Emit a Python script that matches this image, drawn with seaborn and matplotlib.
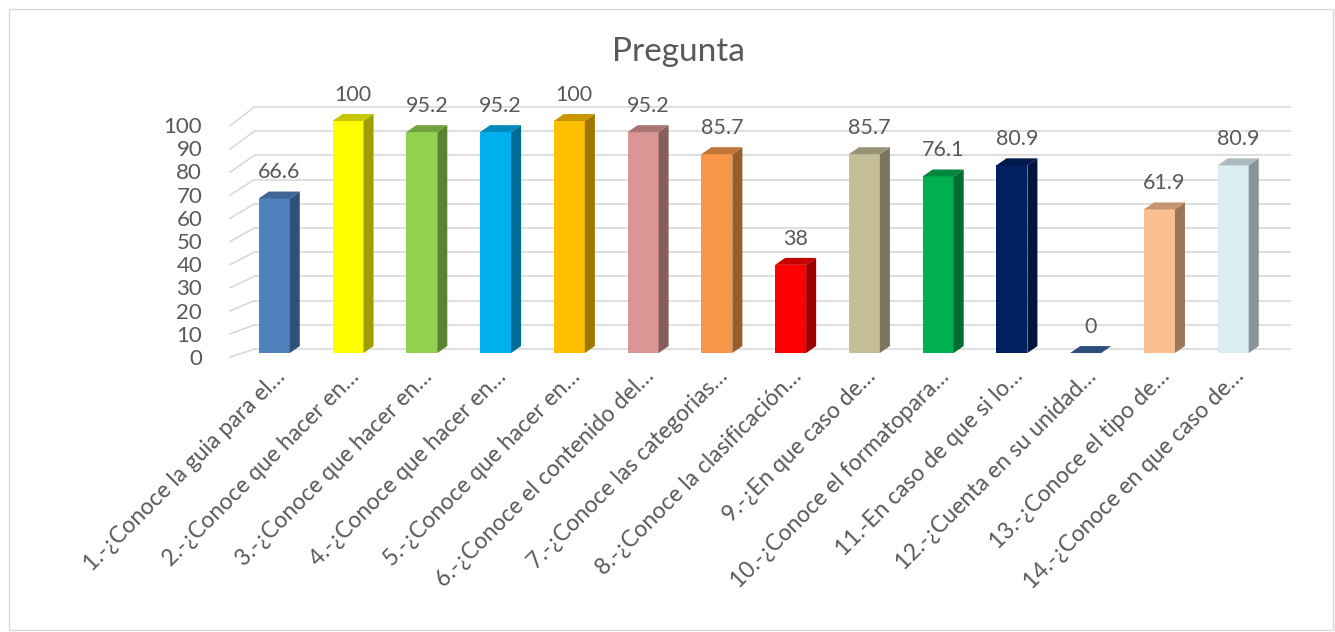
import pandas as pd
import numpy as np
import matplotlib.pyplot as plt
import matplotlib.colors as mcolors
import matplotlib.transforms as mtransforms
from matplotlib.patches import Polygon, Rectangle
import seaborn as sns

# datos de la encuesta (porcentaje por pregunta)
preguntas = [
    '1.-¿Conoce la guia para el…',
    '2.-¿Conoce que hacer en…',
    '3.-¿Conoce que hacer en…',
    '4.-¿Conoce que hacer en…',
    '5.-¿Conoce que hacer en…',
    '6.-¿Conoce el contenido del…',
    '7.-¿Conoce las categorias…',
    '8.-¿Conoce la clasificación…',
    '9.-¿En que caso de…',
    '10.-¿Conoce el formatopara…',
    '11.-En caso de que si lo…',
    '12.-¿Cuenta en su unidad…',
    '13.-¿Conoce el tipo de…',
    '14.-¿Conoce en que caso de…',
]
porcentajes = [66.6, 100, 95.2, 95.2, 100, 95.2, 85.7, 38, 85.7, 76.1, 80.9, 0, 61.9, 80.9]
colores = ['#4F81BD', '#FFFF00', '#92D050', '#00B0F0', '#FFC000', '#D99694', '#F79646',
           '#FF0000', '#C4BD97', '#00B050', '#002060', '#3A64A0', '#FAC090', '#DBEEF4']
ticks_y = [0, 10, 20, 30, 40, 50, 60, 70, 80, 90, 100]

df = pd.DataFrame({'pregunta': preguntas, 'valor': porcentajes})

gris = '#595959'
plt.rcParams['font.family'] = ['Lato', 'DejaVu Sans']

fig = plt.figure(figsize=(13.35, 6.32), dpi=100)
fig.patches.append(Rectangle((9 / 1335, 2 / 632), 1324 / 1335, 621 / 632, transform=fig.transFigure,
                             fill=False, edgecolor='#D9D9D9', linewidth=1))

ax = fig.add_axes([230 / 1335, (632 - 360) / 632, 1060 / 1335, 265 / 632])

sns.barplot(data=df, x='pregunta', y='valor', hue='pregunta', palette=colores,
            saturation=1, width=0.42, legend=False, ax=ax, zorder=3)

ax.set_xlim(-0.6, 13.77)
ax.set_ylim(-3.0, 111.2)

# falso 3D: cara lateral y superior de cada barra
dx, dy = 0.136, 3.0
for bar, c in zip(ax.patches, colores):
    x0, w, h = bar.get_x(), bar.get_width(), bar.get_height()
    rgb = np.array(mcolors.to_rgb(c))
    side = Polygon([(x0 + w, 0), (x0 + w + dx, dy), (x0 + w + dx, h + dy), (x0 + w, h)],
                   closed=True, facecolor=rgb * 0.62, edgecolor='none', zorder=3)
    top = Polygon([(x0, h), (x0 + dx, h + dy), (x0 + w + dx, h + dy), (x0 + w, h)],
                  closed=True, facecolor=rgb * 0.78, edgecolor='none', zorder=3)
    ax.add_patch(side)
    ax.add_patch(top)
    bar.set_edgecolor('none')
    ax.text(x0 + w / 2 + dx / 2, h + dy + 4, f'{h:g}', ha='center', va='bottom',
            fontsize=15.5, color=gris)

# rejilla en perspectiva (pared de fondo + piso)
for v in ticks_y:
    y_front = v * 0.996 - 1.72
    y_back = v * 1.043 + 1.72
    ax.plot([-0.6, -0.27], [y_front, y_back], color='#D9D9D9', lw=1.2, zorder=1, clip_on=False)
    ax.plot([-0.27, 13.77], [y_back, y_back], color='#D9D9D9', lw=1.2, zorder=1, clip_on=False)

ax.set_yticks(ticks_y)
ax.set_yticklabels([str(t) for t in ticks_y], fontsize=16, color=gris)
ax.tick_params(axis='y', length=0, pad=20)
ax.tick_params(axis='x', length=0, pad=4)
# las etiquetas del eje y quedan al pie de la diagonal del piso
bajar = mtransforms.ScaledTranslation(0, -4 / 100, fig.dpi_scale_trans)
for lbl in ax.get_yticklabels():
    lbl.set_transform(lbl.get_transform() + bajar)
ax.set_xticks(range(len(preguntas)))
ax.set_xticklabels(preguntas, rotation=45, ha='right', rotation_mode='anchor',
                   fontsize=16.5, color=gris)
ax.set_xlabel('')
ax.set_ylabel('')
for s in ax.spines.values():
    s.set_visible(False)
ax.patch.set_alpha(0)

fig.text(678 / 1335, 1 - 52 / 632, 'Pregunta', ha='center', va='center', fontsize=24, color=gris)

plt.savefig('out.png', dpi=100)
